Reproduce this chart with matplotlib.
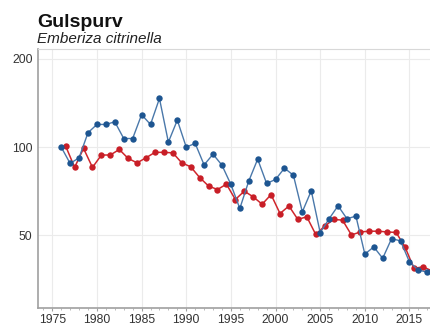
import numpy as np
import matplotlib
matplotlib.use("Agg")
import matplotlib.pyplot as plt
from matplotlib.ticker import FixedLocator, MultipleLocator, NullLocator

plt.rcParams['font.family'] = ['Liberation Sans', 'DejaVu Sans']

# --- data (index, first year = 100) ---
years_blue = list(range(1976, 2018))
blue = [100, 88, 92, 112, 119.5, 119.5, 122, 107, 107, 129,
        119.5, 146.5, 104, 123.6, 100, 103, 87, 94.6, 86.8, 74.6,
        61.8, 76.6, 91, 75.2, 77.6, 84.8, 80.2, 60.2, 71, 51.1,
        57, 63.1, 57, 58.2, 43.2, 45.7, 41.8, 48.8, 47.9, 40.6,
        38.1, 37.5]

# winter series, plotted half a year later
years_red = [y + 0.5 for y in range(1976, 2018)]
red = [100.8, 85.3, 99, 85.3, 94, 94, 98.2, 91.5, 88.4, 92,
       96, 96, 95.6, 88.4, 85.7, 78.8, 73.7, 71.7, 74.8, 66.3,
       70.8, 67.7, 63.9, 68.9, 59.4, 63, 56.7, 57.9, 50.4, 53.8,
       56.7, 56.4, 50.2, 51.4, 51.7, 51.7, 51.4, 51.2, 45.7, 38.6,
       39.1, 37.9]

y_ticks = [50, 100, 200]
x_ticks = [1975, 1980, 1985, 1990, 1995, 2000, 2005, 2010, 2015]

fig = plt.figure(figsize=(4.31, 3.29), dpi=100)
W, H = 431, 329
x0, x1 = 1973.4, 2020.0
left_px, px_per_year = 38, 8.93
width_px = (x1 - x0) * px_per_year
ax = fig.add_axes([left_px / W, (H - 308) / H, width_px / W, (308 - 49) / H])

ax.plot(years_red, red, '-', color='#d0262c', lw=1.1, zorder=3)
ax.plot(years_red, red, 'o', color='#c81e27', ms=4.6, mec='none', zorder=4)
ax.plot(years_blue, blue, '-', color='#4a78aa', lw=1.0, zorder=5)
ax.plot(years_blue, blue, 'o', color='#1d5591', ms=4.6, mec='none', zorder=6)

ax.set_yscale('log')
ax.set_ylim(28.3, 216)
ax.set_xlim(x0, x1)
ax.yaxis.set_major_locator(FixedLocator(y_ticks))
ax.yaxis.set_minor_locator(NullLocator())
ax.set_yticklabels([str(v) for v in y_ticks])
ax.xaxis.set_major_locator(FixedLocator(x_ticks))
ax.xaxis.set_minor_locator(MultipleLocator(1))

ax.grid(True, which='major', color='#ebebeb', lw=0.8)
ax.set_axisbelow(True)
ax.spines['right'].set_visible(False)
ax.spines['top'].set_color('#d8d8d8')
ax.spines['top'].set_linewidth(0.8)
for s in ['left', 'bottom']:
    ax.spines[s].set_color('#a0a0a0')
    ax.spines[s].set_linewidth(1.2)

ax.tick_params(axis='both', which='major', labelsize=8.8, colors='#a0a0a0',
               labelcolor='#333333', length=2, width=0.8, pad=2)
ax.tick_params(axis='x', which='minor', length=1.5, width=0.6, colors='#b0b0b0')
ax.tick_params(axis='y', length=0, pad=4)

fig.text(37 / W, 1 - 27 / H, 'Gulspurv', fontsize=14, fontweight='bold',
         color='#111111', va='baseline')
fig.text(37 / W, 1 - 43 / H, 'Emberiza citrinella', fontsize=11, style='italic',
         color='#222222', va='baseline')

fig.savefig('out.png', dpi=100)
